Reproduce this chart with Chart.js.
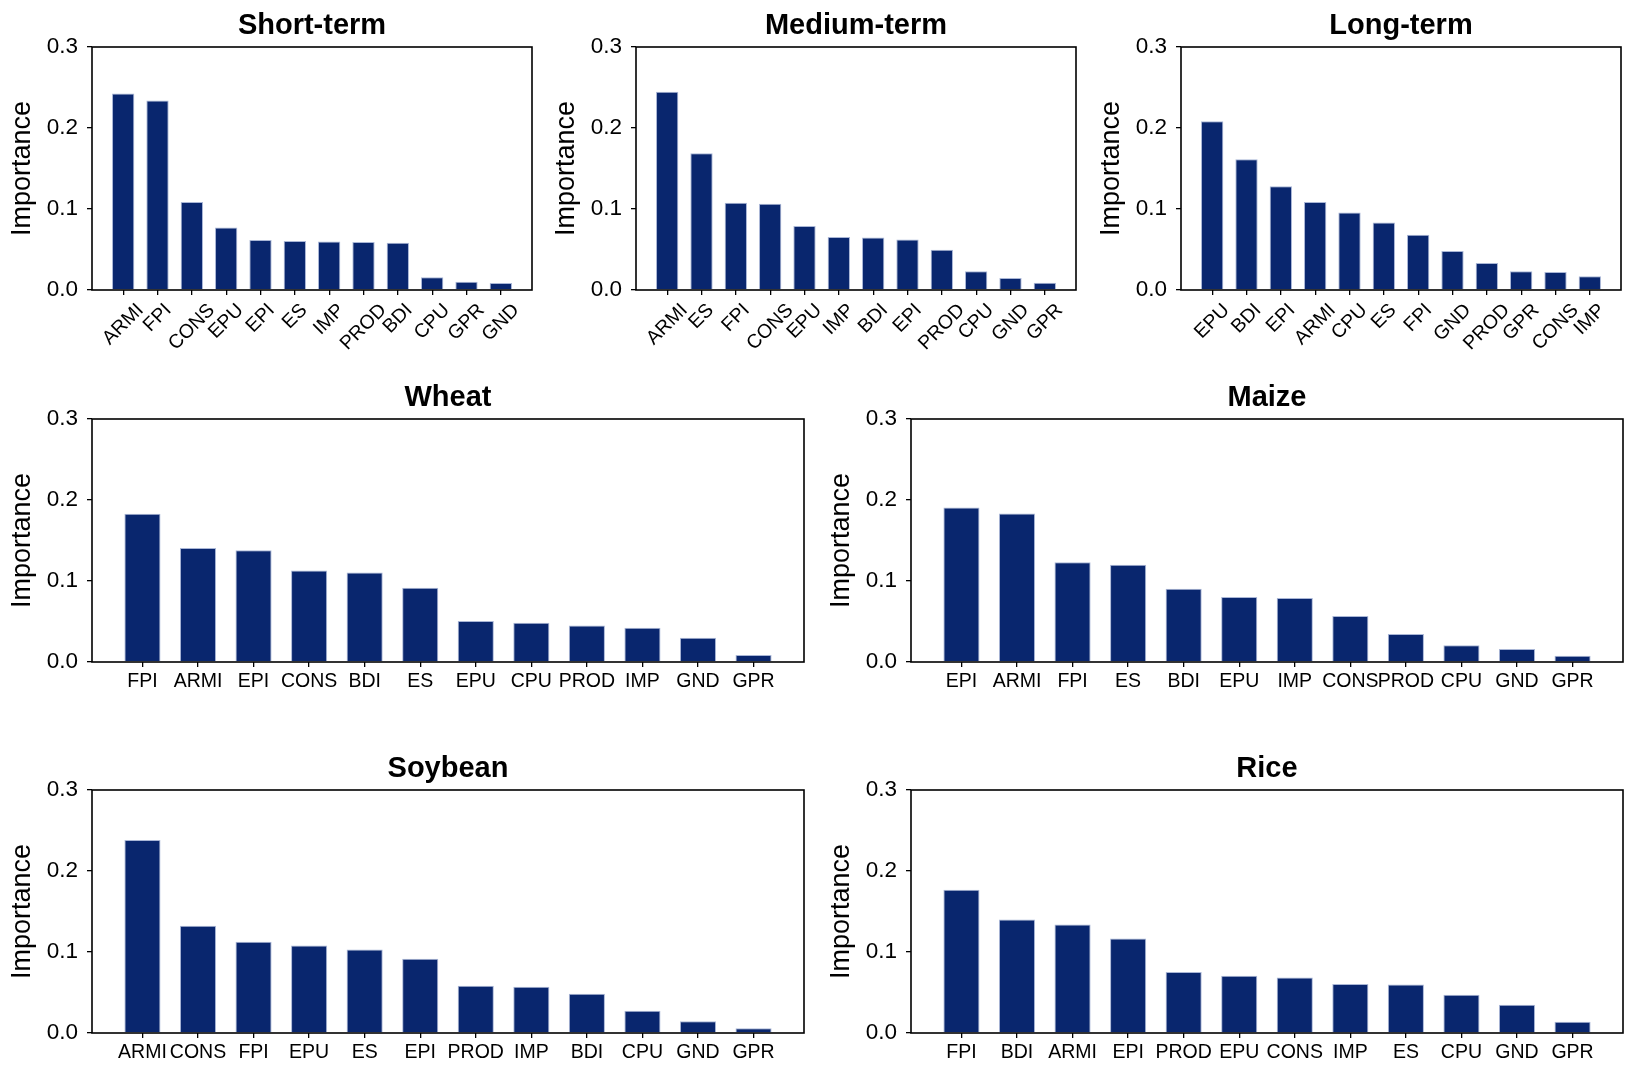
<!DOCTYPE html>
<html>
<head>
<meta charset="utf-8">
<script src="https://cdn.jsdelivr.net/npm/chart.js@4.4.1/dist/chart.umd.min.js"></script>
<style>
  html, body { margin: 0; padding: 0; background: #fff; }
  body { width: 1636px; height: 1079px; position: relative; overflow: hidden; }
  .panel { position: absolute; }
</style>
</head>
<body>
<script>
// feature importance per panel (labels sorted as in the figure)
const shortLabels = ["ARMI", "FPI", "CONS", "EPU", "EPI", "ES", "IMP", "PROD", "BDI", "CPU", "GPR", "GND"];
const shortValues = [0.2425, 0.2339, 0.1085, 0.0773, 0.0617, 0.0604, 0.0600, 0.0592, 0.0584, 0.0156, 0.0103, 0.0086];

const mediumLabels = ["ARMI", "ES", "FPI", "CONS", "EPU", "IMP", "BDI", "EPI", "PROD", "CPU", "GND", "GPR"];
const mediumValues = [0.2446, 0.1689, 0.1077, 0.1065, 0.0789, 0.0654, 0.0649, 0.0625, 0.0497, 0.0230, 0.0148, 0.0090];

const longLabels = ["EPU", "BDI", "EPI", "ARMI", "CPU", "ES", "FPI", "GND", "PROD", "GPR", "CONS", "IMP"];
const longValues = [0.2084, 0.1615, 0.1282, 0.1085, 0.0958, 0.0834, 0.0682, 0.0481, 0.0333, 0.0230, 0.0222, 0.0169];

const wheatLabels = ["FPI", "ARMI", "EPI", "CONS", "BDI", "ES", "EPU", "CPU", "PROD", "IMP", "GND", "GPR"];
const wheatValues = [0.1829, 0.1406, 0.1381, 0.1130, 0.1106, 0.0917, 0.0506, 0.0485, 0.0452, 0.0423, 0.0300, 0.0086];

const maizeLabels = ["EPI", "ARMI", "FPI", "ES", "BDI", "EPU", "IMP", "CONS", "PROD", "CPU", "GND", "GPR"];
const maizeValues = [0.1907, 0.1833, 0.1233, 0.1200, 0.0904, 0.0801, 0.0789, 0.0567, 0.0345, 0.0206, 0.0160, 0.0078];

const soybeanLabels = ["ARMI", "CONS", "FPI", "EPU", "ES", "EPI", "PROD", "IMP", "BDI", "CPU", "GND", "GPR"];
const soybeanValues = [0.2384, 0.1323, 0.1126, 0.1081, 0.1032, 0.0917, 0.0584, 0.0571, 0.0485, 0.0275, 0.0144, 0.0058];

const riceLabels = ["FPI", "BDI", "ARMI", "EPI", "PROD", "EPU", "CONS", "IMP", "ES", "CPU", "GND", "GPR"];
const riceValues = [0.1767, 0.1402, 0.1340, 0.1167, 0.0752, 0.0707, 0.0686, 0.0604, 0.0600, 0.0473, 0.0349, 0.0140];

const yTicks = [0, 0.1, 0.2, 0.3];

const FONT = "'Liberation Sans', Arial, Helvetica, sans-serif";
const BAR = "#09266e";

// axes boxes in page pixels
const panels = [
  { title: "Short-term",  labels: shortLabels,   values: shortValues,   x: 92,   y: 47,  w: 440, h: 243, rotate: true },
  { title: "Medium-term", labels: mediumLabels,  values: mediumValues,  x: 636,  y: 47,  w: 440, h: 243, rotate: true },
  { title: "Long-term",   labels: longLabels,    values: longValues,    x: 1181, y: 47,  w: 440, h: 243, rotate: true },
  { title: "Wheat",       labels: wheatLabels,   values: wheatValues,   x: 92,   y: 419, w: 712, h: 243 },
  { title: "Maize",       labels: maizeLabels,   values: maizeValues,   x: 911,  y: 419, w: 712, h: 243 },
  { title: "Soybean",     labels: soybeanLabels, values: soybeanValues, x: 92,   y: 790, w: 712, h: 243 },
  { title: "Rice",        labels: riceLabels,    values: riceValues,    x: 911,  y: 790, w: 712, h: 243 }
];

const LEFT = 92, TOP = 47, RIGHT = 12;

// frame around the plot area
const frame = {
  id: "frame",
  afterDraw(chart) {
    const a = chart.chartArea, ctx = chart.ctx;
    ctx.save();
    ctx.strokeStyle = "#000";
    ctx.lineWidth = 1.6;
    ctx.strokeRect(a.left, a.top, a.right - a.left, a.bottom - a.top);
    ctx.restore();
  }
};

// matplotlib-like 45 degree labels, centred under the tick
const slanted = {
  id: "slanted",
  afterDraw(chart, args, opts) {
    if (!opts.labels) return;
    const ctx = chart.ctx, xs = chart.scales.x, bottom = chart.chartArea.bottom;
    const size = 19.5;
    ctx.save();
    ctx.font = size + "px " + FONT;
    ctx.fillStyle = "#000";
    ctx.textAlign = "center";
    ctx.textBaseline = "middle";
    opts.labels.forEach((lab, i) => {
      const w = ctx.measureText(lab).width;
      const half = (w + size * 0.9) * Math.SQRT1_2 / 2;
      const cx = xs.getPixelForValue(i);
      const cy = bottom + 11 + half;
      ctx.save();
      ctx.translate(cx, cy);
      ctx.rotate(-Math.PI / 4);
      ctx.fillText(lab, 0, 0);
      ctx.restore();
    });
    ctx.restore();
  }
};

panels.forEach(p => {
  const bottomSpace = p.rotate ? 75 : 45;
  const div = document.createElement("div");
  div.className = "panel";
  div.style.left = (p.x - LEFT) + "px";
  div.style.top = (p.y - TOP) + "px";
  div.style.width = (p.w + LEFT + RIGHT) + "px";
  div.style.height = (p.h + TOP + bottomSpace) + "px";
  const canvas = document.createElement("canvas");
  div.appendChild(canvas);
  document.body.appendChild(div);

  new Chart(canvas, {
    type: "bar",
    data: {
      datasets: [{
        data: p.values.map((v, i) => ({ x: i, y: v })),
        backgroundColor: BAR,
        borderColor: "#a9b6d6",
        borderWidth: 1,
        categoryPercentage: 1,
        barPercentage: 0.65
      }]
    },
    options: {
      responsive: true,
      maintainAspectRatio: false,
      animation: false,
      layout: { autoPadding: false, padding: { left: 0, top: 0, right: RIGHT, bottom: 0 } },
      plugins: {
        legend: { display: false },
        tooltip: { enabled: false },
        title: {
          display: true,
          fullSize: false,
          text: p.title,
          color: "#000",
          font: { family: FONT, size: 29, weight: "bold", lineHeight: 1.2 },
          padding: { top: 9, bottom: 3.2 }
        },
        slanted: { labels: p.rotate ? p.labels : null }
      },
      scales: {
        x: {
          type: "linear",
          offset: false,
          min: -0.908,
          max: 11.908,
          afterBuildTicks: s => { s.ticks = p.labels.map((_, i) => ({ value: i })); },
          afterFit: s => { s.height = bottomSpace; },
          border: { display: false },
          grid: { display: true, offset: false, drawOnChartArea: false, drawTicks: true, tickLength: 5, color: "#000", lineWidth: 1.3 },
          ticks: {
            display: !p.rotate,
            autoSkip: false,
            maxRotation: 0,
            padding: 3,
            color: "#000",
            font: { family: FONT, size: 19.5 },
            callback: v => p.labels[v]
          }
        },
        y: {
          min: 0,
          max: 0.3,
          afterBuildTicks: s => { s.ticks = yTicks.map(v => ({ value: v })); },
          afterFit: s => { s.width = LEFT; },
          border: { display: false },
          grid: { display: true, drawOnChartArea: false, drawTicks: true, tickLength: 5, color: "#000", lineWidth: 1.3 },
          ticks: {
            padding: 9,
            color: "#000",
            font: { family: FONT, size: 22.5 },
            callback: v => v.toFixed(1)
          },
          title: {
            display: true,
            text: "Importance",
            color: "#000",
            font: { family: FONT, size: 27, lineHeight: 1.2 },
            padding: { top: 6.5, bottom: 0 }
          }
        }
      }
    },
    plugins: [frame, slanted]
  });
});
</script>
</body>
</html>
